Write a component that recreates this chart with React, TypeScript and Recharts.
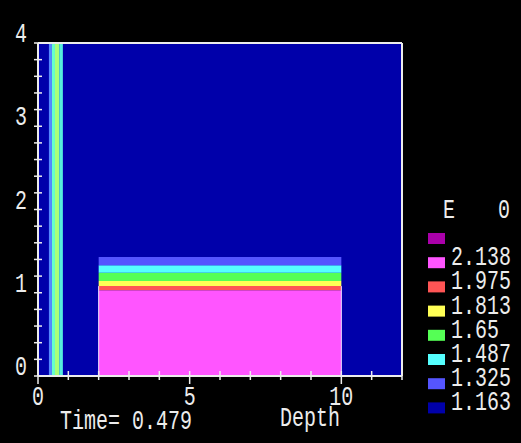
import React from 'react';
import {
  ComposedChart,
  XAxis,
  YAxis,
  CartesianGrid,
  ReferenceArea,
  ReferenceLine,
} from 'recharts';

// ---- data ----
const X_TICKS = [0, 1, 2, 3, 4, 5, 6, 7, 8, 9, 10, 11, 12];
const X_LABELS = [0, 5, 10];
const Y_TICKS = [0, 0.2, 0.4, 0.6, 0.8, 1, 1.2, 1.4, 1.6, 1.8, 2, 2.2, 2.4, 2.6, 2.8, 3, 3.2, 3.4, 3.6, 3.8, 4];
const Y_LABELS = [0, 1, 2, 3, 4];

const LEGEND_LABELS = ['', '2.138', '1.975', '1.813', '1.65', '1.487', '1.325', '1.163'];
const LEGEND_COLORS = ['#aa00aa', '#ff55ff', '#ff5555', '#ffff55', '#55ff55', '#55ffff', '#5555ff', '#0000aa'];

// slab (x 2..10) layered bands
const SLAB_X = [2, 10];
const SLAB_Y0 = [0, 1.03, 1.08, 1.14, 1.24, 1.33];
const SLAB_Y1 = [1.03, 1.08, 1.14, 1.24, 1.33, 1.43];
const SLAB_COLORS = ['#ff55ff', '#ff5555', '#ffff55', '#55ff55', '#55ffff', '#5555ff'];

// thin vertical stripe near x ~ 0.5
const STRIPE_X0 = [0.36, 0.46, 0.56, 0.7];
const STRIPE_X1 = [0.46, 0.56, 0.7, 0.82];
const STRIPE_COLORS = ['#5588ff', '#66ffcc', '#aaff77', '#55eedd'];

const TIME_TEXT = 'Time= 0.479';
const X_TITLE = 'Depth';
const LEGEND_TITLE_L = 'E';
const LEGEND_TITLE_R = '0';

const FG = '#ececec';
const FONT = '"Liberation Mono", "DejaVu Sans Mono", monospace';

const Txt = ({ x, y, children, anchor = 'start', size = 27, sx = 0.74 }: any) => (
  <text
    transform={`translate(${x},${y}) scale(${sx},1)`}
    textAnchor={anchor}
    fontFamily={FONT}
    fontSize={size}
    fill={FG}
  >
    {children}
  </text>
);

const YTick = (props: any) => {
  const { x, y, payload } = props;
  const v = payload.value;
  const isLabel = Y_LABELS.includes(v);
  return (
    <g>
      <line x1={x - 4} x2={x + 4} y1={y} y2={y} stroke={FG} strokeWidth={1.5} />
      {isLabel && (
        <Txt x={x - 11} y={y - 1} anchor="end">
          {String(v)}
        </Txt>
      )}
    </g>
  );
};

const XTick = (props: any) => {
  const { x, y, payload } = props;
  const v = payload.value;
  const isLabel = X_LABELS.includes(v);
  return (
    <g>
      <line x1={x} x2={x} y1={y - 5} y2={y + (isLabel ? 8 : 4)} stroke={FG} strokeWidth={1.5} />
      {isLabel && (
        <Txt x={x} y={y + 29} anchor="middle">
          {String(v)}
        </Txt>
      )}
    </g>
  );
};

export default function App() {
  return (
    <div style={{ position: 'fixed', left: 0, top: 0, width: 521, height: 443, background: '#000' }}>
      <div style={{ position: 'absolute', left: 0, top: 0 }}>
        <ComposedChart
          width={521}
          height={443}
          data={[]}
          margin={{ top: 43, right: 119, bottom: 37, left: 8 }}
        >
          <CartesianGrid fill="#0000aa" horizontal={false} vertical={false} />
          <XAxis
            type="number"
            dataKey="x"
            domain={[0, 12]}
            ticks={X_TICKS}
            interval={0}
            allowDataOverflow
            height={30}
            tickSize={0}
            tickMargin={0}
            tickLine={false}
            axisLine={{ stroke: FG, strokeWidth: 2 }}
            tick={<XTick />}
          />
          <YAxis
            type="number"
            dataKey="y"
            domain={[0, 4]}
            ticks={Y_TICKS}
            interval={0}
            allowDataOverflow
            width={30}
            tickSize={0}
            tickMargin={0}
            tickLine={false}
            axisLine={{ stroke: FG, strokeWidth: 2 }}
            tick={<YTick />}
          />
          {STRIPE_COLORS.map((c, i) => (
            <ReferenceArea
              key={'s' + i}
              x1={STRIPE_X0[i]}
              x2={STRIPE_X1[i]}
              y1={0}
              y2={4}
              fill={c}
              fillOpacity={1}
              stroke="none"
              ifOverflow="hidden"
            />
          ))}
          {SLAB_COLORS.map((c, i) => (
            <ReferenceArea
              key={'b' + i}
              x1={SLAB_X[0]}
              x2={SLAB_X[1]}
              y1={SLAB_Y0[i]}
              y2={SLAB_Y1[i]}
              fill={c}
              fillOpacity={1}
              stroke="none"
              ifOverflow="hidden"
            />
          ))}
          <ReferenceLine
            segment={[{ x: SLAB_X[0], y: 0 }, { x: SLAB_X[0], y: SLAB_Y1[0] + 0.05 }]}
            stroke="#f0e0ff"
            strokeWidth={1}
          />
          <ReferenceLine
            segment={[{ x: SLAB_X[1], y: 0 }, { x: SLAB_X[1], y: SLAB_Y1[0] + 0.05 }]}
            stroke="#f0e0ff"
            strokeWidth={1}
          />
          <ReferenceLine y={4} stroke={FG} strokeWidth={2} />
          <ReferenceLine x={12} stroke={FG} strokeWidth={2} />
        </ComposedChart>
      </div>
      <svg
        width={521}
        height={443}
        style={{ position: 'absolute', left: 0, top: 0, pointerEvents: 'none' }}
      >
        <Txt x={60} y={429}>{TIME_TEXT}</Txt>
        <Txt x={280} y={426}>{X_TITLE}</Txt>
        <Txt x={443} y={218}>{LEGEND_TITLE_L}</Txt>
        <Txt x={498} y={218}>{LEGEND_TITLE_R}</Txt>
        {LEGEND_COLORS.map((c, i) => (
          <g key={'l' + i}>
            <rect x={428} y={233 + i * 24.2} width={17} height={11} fill={c} />
            {LEGEND_LABELS[i] !== '' && (
              <Txt x={451} y={241 + i * 24.2}>{LEGEND_LABELS[i]}</Txt>
            )}
          </g>
        ))}
      </svg>
    </div>
  );
}
